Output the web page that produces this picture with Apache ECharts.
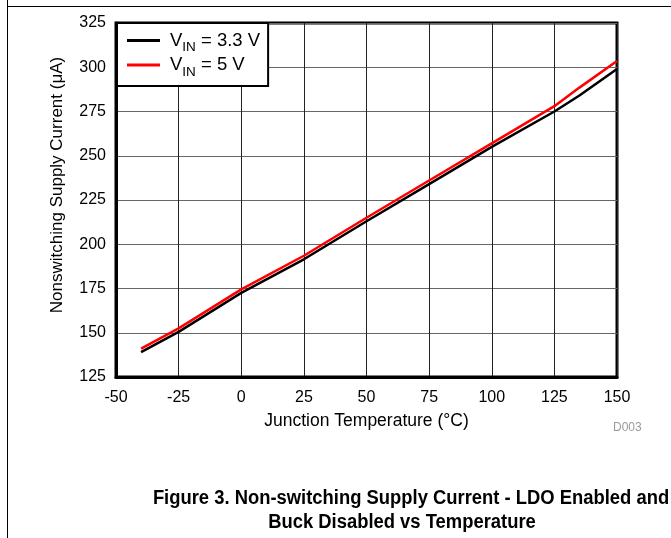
<!DOCTYPE html>
<html>
<head>
<meta charset="utf-8">
<script src="https://cdn.jsdelivr.net/npm/echarts@6/dist/echarts.min.js"></script>
<style>
html,body{margin:0;padding:0;background:#fff;}
#c{width:671px;height:538px;}
</style>
</head>
<body>
<div id="c"></div>
<script>
// Data
var temps = [-40, -25, 0, 25, 50, 75, 100, 125, 135, 150];
var vin33 = [139, 150.5, 172.5, 191.5, 213, 234, 255, 275, 284, 299];
var vin5  = [141, 152.5, 174.5, 193.5, 215, 236, 257, 278, 288.5, 303.5];
var seriesNames = ['VIN = 3.3 V', 'VIN = 5 V'];
var legendLabels = {'VIN = 3.3 V': ' = 3.3 V', 'VIN = 5 V': ' = 5 V'};
var xTicks = {min: -50, max: 150, step: 25};
var yTicks = {min: 125, max: 325, step: 25};

function pairs(xs, ys) { return xs.map(function (x, i) { return [x, ys[i]]; }); }

var font = 'Arial, "Liberation Sans", Helvetica, sans-serif';
var chart = echarts.init(document.getElementById('c'));
chart.setOption({
  animation: false,
  backgroundColor: '#fff',
  textStyle: {fontFamily: font},
  grid: {left: 116, right: 54, top: 23, bottom: 161, show: true, borderColor: '#000', borderWidth: 3, backgroundColor: 'transparent'},
  legend: {
    left: 117, top: 23,
    orient: 'vertical',
    backgroundColor: '#fff',
    borderColor: '#000', borderWidth: 2, borderRadius: 0,
    padding: [8, 8, 7, 10],
    itemGap: 1,
    itemWidth: 33, itemHeight: 3,
    icon: 'rect',
    data: seriesNames,
    formatter: function (n) { return '{s|}{a|V}{b|IN}{a|' + legendLabels[n] + '}'; },
    textStyle: {
      fontFamily: font, color: '#000',
      rich: {
        s: {width: 5, lineHeight: 20},
        a: {fontSize: 18.5, fontFamily: font, color: '#000', lineHeight: 20},
        b: {fontSize: 13.5, fontFamily: font, color: '#000', lineHeight: 20, verticalAlign: 'bottom', padding: [0, 0, -4, 0]}
      }
    }
  },
  xAxis: {
    type: 'value', min: xTicks.min, max: xTicks.max, interval: xTicks.step,
    name: 'Junction Temperature (°C)', nameLocation: 'middle', nameGap: 35,
    nameTextStyle: {fontSize: 17.5, color: '#000', fontFamily: font},
    axisLine: {show: true, onZero: false, lineStyle: {color: '#000', width: 3}},
    axisTick: {show: false},
    axisLabel: {fontSize: 16, color: '#000', margin: 13, fontFamily: font},
    splitLine: {show: true, lineStyle: {color: '#222', width: 1}}
  },
  yAxis: {
    type: 'value', min: yTicks.min, max: yTicks.max, interval: yTicks.step,
    axisLine: {show: true, onZero: false, lineStyle: {color: '#000', width: 3}},
    axisTick: {show: false},
    axisLabel: {fontSize: 16, color: '#000', margin: 10, fontFamily: font},
    splitLine: {show: true, lineStyle: {color: '#666', width: 1}}
  },
  series: [
    {name: seriesNames[0], type: 'line', data: pairs(temps, vin33), symbol: 'none', color: '#000', lineStyle: {color: '#000', width: 2.5}, z: 3},
    {name: seriesNames[1], type: 'line', data: pairs(temps, vin5), symbol: 'none', color: '#ff0000', lineStyle: {color: '#ff0000', width: 2.5}, z: 4}
  ],
  graphic: [
    {type: 'line', shape: {x1: 7.5, y1: 0, x2: 7.5, y2: 538}, style: {stroke: '#000', lineWidth: 1}},
    {type: 'line', shape: {x1: 7, y1: 6.5, x2: 671, y2: 6.5}, style: {stroke: '#000', lineWidth: 1}},
    {type: 'text', x: 57, y: 185, rotation: Math.PI / 2, style: {text: 'Nonswitching Supply Current (μA)', fontSize: 17, fill: '#000', fontFamily: font, align: 'center', verticalAlign: 'middle'}},
    {type: 'text', x: 613, y: 428, style: {text: 'D003', fontSize: 12, fill: '#999', fontFamily: font, align: 'left', verticalAlign: 'middle'}},
    {type: 'text', x: 411, y: 498, scaleX: 0.92, style: {text: 'Figure 3. Non-switching Supply Current - LDO Enabled and', fontSize: 20, fontWeight: 'bold', fill: '#000', fontFamily: font, align: 'center', verticalAlign: 'middle'}},
    {type: 'text', x: 402, y: 522, scaleX: 0.92, style: {text: 'Buck Disabled vs Temperature', fontSize: 20, fontWeight: 'bold', fill: '#000', fontFamily: font, align: 'center', verticalAlign: 'middle'}}
  ]
});
</script>
</body>
</html>
